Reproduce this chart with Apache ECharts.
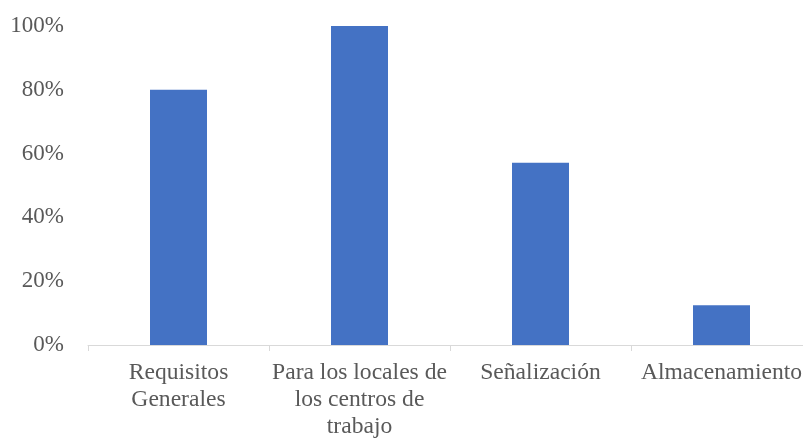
<!DOCTYPE html>
<html>
<head>
<meta charset="utf-8">
<script src="https://cdn.jsdelivr.net/npm/echarts@6/dist/echarts.min.js"></script>
<style>
  html, body { margin: 0; padding: 0; background: #ffffff; overflow: hidden; }
  /* canvas is a little wider than the window so the axis runs off the right edge */
  #chart { width: 812px; height: 440px; }
</style>
</head>
<body>
<div id="chart"></div>
<script>
// Categories (line breaks as they are printed under the axis)
const categories = [
  'Requisitos\nGenerales',
  'Para los locales de\nlos centros de\ntrabajo',
  'Señalización',
  'Almacenamiento'
];
// Share of compliance per category (fraction of 1)
const values = [0.80, 1.00, 0.571, 0.125];
// Percentage axis ticks
const yTicks = [0, 0.2, 0.4, 0.6, 0.8, 1.0];

const chart = echarts.init(document.getElementById('chart'), null, { renderer: 'canvas' });
const textFont = 'Liberation Serif, Times New Roman, serif';

chart.setOption({
  animation: false,
  grid: { left: 88, right: 0, top: 26, bottom: 94, containLabel: false },
  xAxis: {
    type: 'category',
    data: categories,
    axisLine: { show: true, lineStyle: { color: '#d9d9d9', width: 1 } },
    axisTick: { show: true, alignWithLabel: false, length: 6, lineStyle: { color: '#d9d9d9' } },
    axisLabel: {
      interval: 0,
      margin: 14,
      color: '#595959',
      fontFamily: textFont,
      fontSize: 23.6,
      lineHeight: 27
    }
  },
  yAxis: {
    type: 'value',
    min: yTicks[0],
    max: yTicks[yTicks.length - 1],
    interval: 0.2,
    axisLine: { show: false },
    axisTick: { show: false },
    splitLine: { show: false },
    axisLabel: {
      margin: 24,
      color: '#595959',
      fontFamily: textFont,
      fontSize: 23,
      formatter: v => Math.round(v * 100) + '%'
    }
  },
  series: [{
    type: 'bar',
    data: values,
    barWidth: 57,
    itemStyle: { color: '#4472C4' }
  }]
});
</script>
</body>
</html>
